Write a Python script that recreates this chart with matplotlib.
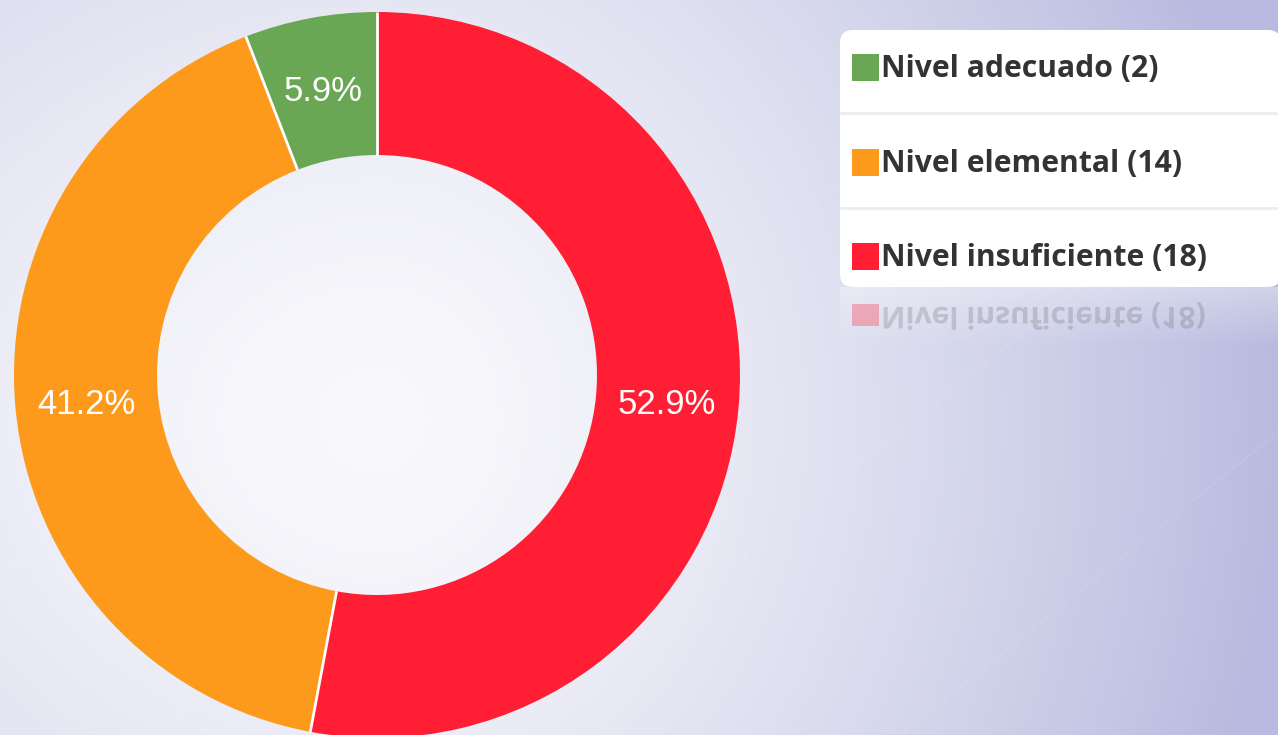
import numpy as np
import matplotlib
matplotlib.use('Agg')
from matplotlib import pyplot as plt
from matplotlib.patches import FancyBboxPatch, Rectangle, PathPatch
from matplotlib.textpath import TextPath
from matplotlib.font_manager import FontProperties
from matplotlib.transforms import Affine2D

# data
names = ['Nivel adecuado', 'Nivel elemental', 'Nivel insuficiente']
counts = [2, 14, 18]
colors = ['#6aa754', '#fe9a1b', '#ff1e33']

W, H = 1278, 735
fig = plt.figure(figsize=(W / 100, H / 100), dpi=100)
ax = fig.add_axes([0, 0, 1, 1])

# background gradient (pixel coords, y up)
xx, yy = np.meshgrid(np.arange(W), np.arange(H))
cx, cy = 380, H - 420
dx = np.where(xx < cx, (xx - cx) / 1200.0, (xx - cx) / 900.0)
dy = (yy - cy) / 1000.0
f = np.clip(np.sqrt(dx ** 2 + dy ** 2), 0, 1) ** 1.4
c0 = np.array([249, 249, 252]) / 255.0
c1 = np.array([184, 187, 223]) / 255.0
bg = c0[None, None, :] * (1 - f[..., None]) + c1[None, None, :] * f[..., None]
ax.imshow(bg, extent=(0, W, 0, H), origin='lower', zorder=0)

# barely visible diagonal streaks
for x0 in [-200, 150, 520, 900]:
    ax.plot([x0, x0 + 700], [0, 560], color='white', lw=1.5, alpha=0.07, zorder=1)

# donut, red first clockwise from 12 o'clock
order = [2, 1, 0]
vals = [counts[i] for i in order]
cols = [colors[i] for i in order]
ctr = (377, H - 375)
R, ring = 363, 143
wedges, _, autotexts = ax.pie(vals, colors=cols, startangle=90, counterclock=False,
                              center=ctr, radius=R,
                              autopct='%1.1f%%', pctdistance=0.803,
                              wedgeprops=dict(width=ring, edgecolor='none', linewidth=0),
                              textprops=dict(color='white', fontsize=25,
                                             family='Liberation Sans'))
for w in wedges:
    w.set_zorder(2)
for t in autotexts:
    t.set_zorder(4)
    px, py = t.get_position()
    t.set_position((px, py - 3))

# white separators between slices only
for w in wedges:
    a = np.deg2rad(w.theta1)
    ax.plot([ctr[0] + (R - ring) * np.cos(a), ctr[0] + R * np.cos(a)],
            [ctr[1] + (R - ring) * np.sin(a), ctr[1] + R * np.sin(a)],
            color='white', lw=2, zorder=3, solid_capstyle='butt')

# legend box
lx0, ly_top, ly_bot = 840, 30, 287
box = FancyBboxPatch((lx0, H - ly_bot), 441, ly_bot - ly_top,
                     boxstyle='round,pad=0,rounding_size=13',
                     facecolor='white', edgecolor='none', zorder=3)
ax.add_patch(box)
for sy in [113, 208]:
    ax.plot([lx0, W], [H - sy, H - sy], color='#ececec', lw=2, zorder=4,
            solid_capstyle='butt')

row_y = [67, 162, 256]
fp = FontProperties(family='Open Sans', weight='bold', size=30)
for i in range(3):
    ax.add_patch(Rectangle((852, H - row_y[i] - 14), 27, 27, facecolor=colors[i],
                           edgecolor='none', zorder=5))
    ax.text(881, H - row_y[i] - 2, f'{names[i]} ({counts[i]})', fontsize=21.7,
            fontweight='bold', family='Open Sans', color='#333333',
            va='center', ha='left', zorder=5)

# faded reflection of the box bottom and the last legend row
fade = np.zeros((60, 2, 4))
fade[..., :3] = 1.0
fade[..., 3] = np.linspace(0.0, 0.35, 60)[:, None]
ax.imshow(fade, extent=(lx0, W, H - 347, H - 287), origin='lower', zorder=3,
          interpolation='bilinear', aspect='auto')
tp = TextPath((0, 0), f'{names[2]} ({counts[2]})', prop=fp)
tr = Affine2D().scale(1, -1).translate(881, H - 307)
ax.add_patch(PathPatch(tr.transform_path(tp), facecolor='#555555', edgecolor='none',
                       alpha=0.22, zorder=3))
ax.add_patch(Rectangle((852, H - 326), 27, 22, facecolor=colors[2], edgecolor='none',
                       alpha=0.3, zorder=3))

ax.set_xlim(0, W)
ax.set_ylim(0, H)
ax.set_aspect('equal')
ax.axis('off')

fig.savefig('out.png', dpi=100)
